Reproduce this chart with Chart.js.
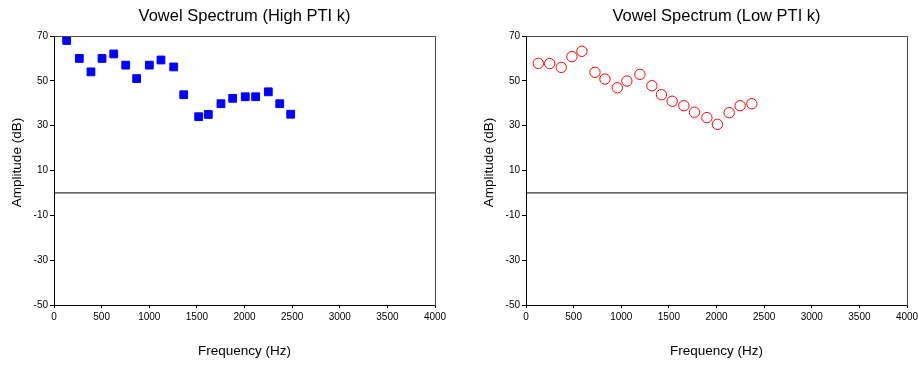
<!DOCTYPE html>
<html>
<head>
<meta charset="utf-8">
<script src="https://cdn.jsdelivr.net/npm/chart.js@4"></script>
<style>
  body { margin: 0; background: #fff; }
  #wrap { position: relative; width: 919px; height: 365px; overflow: hidden; background: #fff; }
  .box { position: absolute; top: 0; height: 365px; }
</style>
</head>
<body>
<div id="wrap">
  <div class="box" style="left:0;width:460px"><canvas id="highChart"></canvas></div>
  <div class="box" style="left:460px;width:459px"><canvas id="lowChart"></canvas></div>
</div>
<script>
// Harmonic frequencies (Hz) and amplitudes (dB)
const highFreq = [133, 266, 388, 504, 627, 753, 868, 1001, 1123, 1257, 1362, 1519, 1620, 1753, 1876, 2008, 2117, 2250, 2370, 2485];
const highAmp = [68, 60, 54, 60, 62, 57, 51, 57, 59.3, 56.2, 43.8, 34, 35, 39.8, 42.2, 42.9, 42.9, 45.1, 39.8, 35.1];

const lowFreq = [129, 248, 370, 482, 587, 724, 829, 958, 1059, 1196, 1322, 1422, 1535, 1657, 1769, 1899, 2010, 2133, 2248, 2371];
const lowAmp = [57.8, 57.7, 56.0, 60.8, 63.2, 53.8, 50.8, 46.9, 49.9, 52.9, 47.8, 43.8, 40.9, 38.9, 36.0, 33.6, 30.6, 35.8, 38.9, 39.8];

const xTicks = [0, 500, 1000, 1500, 2000, 2500, 3000, 3500, 4000];
const yTicks = [-50, -30, -10, 10, 30, 50, 70];
const zeroLine = [0, 0];

const FONT = 'Arial, "Liberation Sans", sans-serif';

// top and right edges of the plot frame, plus the y axis title
const framePlugin = {
    id: 'frame',
    afterDraw(chart, args, opts) {
        const a = chart.chartArea;
        const ctx = chart.ctx;
        ctx.save();
        ctx.strokeStyle = '#444';
        ctx.lineWidth = 1;
        ctx.beginPath();
        ctx.moveTo(Math.round(a.left) + 0.5, Math.round(a.top) + 0.5);
        ctx.lineTo(Math.round(a.right) + 0.5, Math.round(a.top) + 0.5);
        ctx.lineTo(Math.round(a.right) + 0.5, Math.round(a.bottom) + 0.5);
        ctx.stroke();

        // y title sits a little above the middle of the axis
        ctx.translate(opts.titleX, (a.top + a.bottom) / 2 - 8);
        ctx.rotate(-Math.PI / 2);
        ctx.fillStyle = '#000';
        ctx.font = '13.5px ' + FONT;
        ctx.textAlign = 'center';
        ctx.textBaseline = 'middle';
        ctx.fillText(opts.yTitle, 0, 0);
        ctx.restore();
    }
};

function makeChart(id, title, freq, amp, pointOpts, yAxisWidth, titleX, rightPad) {
    const ctx = document.getElementById(id).getContext('2d');
    return new Chart(ctx, {
        type: 'scatter',
        data: {
            datasets: [{
                data: freq.map((f, i) => ({ x: f, y: amp[i] })),
                ...pointOpts
            }, {
                type: 'line',
                data: [{ x: xTicks[0], y: zeroLine[0] }, { x: xTicks[xTicks.length - 1], y: zeroLine[1] }],
                borderColor: '#000',
                borderWidth: 1,
                pointRadius: 0,
                fill: false
            }]
        },
        options: {
            responsive: true,
            maintainAspectRatio: false,
            animation: false,
            layout: { padding: { top: 0, right: rightPad, bottom: 0, left: 0 } },
            plugins: {
                legend: { display: false },
                tooltip: { enabled: false },
                title: {
                    display: true,
                    text: title,
                    fullSize: false,
                    color: '#000',
                    font: { family: FONT, size: 16.5, weight: 'normal' },
                    padding: { top: 7, bottom: 9.2 }
                },
                frame: { titleX: titleX, yTitle: 'Amplitude (dB)' }
            },
            scales: {
                x: {
                    type: 'linear',
                    min: 0,
                    max: 4000,
                    afterBuildTicks: s => { s.ticks = xTicks.map(v => ({ value: v })); },
                    afterFit: s => { s.height = 60; s.paddingLeft = 0; s.paddingRight = 0; },
                    grid: { drawOnChartArea: false, tickLength: 3, tickColor: '#000' },
                    border: { color: '#000', width: 1 },
                    ticks: {
                        color: '#000',
                        padding: 3,
                        maxRotation: 0,
                        font: { family: FONT, size: 10 },
                        callback: v => String(v)
                    },
                    title: {
                        display: true,
                        text: 'Frequency (Hz)',
                        color: '#000',
                        font: { family: FONT, size: 13.5 },
                        padding: { top: 0, bottom: 6 }
                    }
                },
                y: {
                    type: 'linear',
                    min: -50,
                    max: 70,
                    afterBuildTicks: s => { s.ticks = yTicks.map(v => ({ value: v })); },
                    afterFit: s => { s.width = yAxisWidth; s.paddingTop = 0; s.paddingBottom = 0; },
                    grid: { drawOnChartArea: false, tickLength: 4, tickColor: '#000' },
                    border: { color: '#000', width: 1 },
                    ticks: {
                        color: '#000',
                        padding: 2,
                        font: { family: FONT, size: 10 },
                        callback: v => String(v)
                    }
                }
            }
        },
        plugins: [framePlugin]
    });
}

makeChart('highChart', 'Vowel Spectrum (High PTI k)', highFreq, highAmp, {
    pointStyle: 'rect',
    pointRadius: 5.5,
    pointBackgroundColor: '#0000ff',
    pointBorderColor: '#0000ff',
    pointBorderWidth: 1
}, 54, 17, 25);

makeChart('lowChart', 'Vowel Spectrum (Low PTI k)', lowFreq, lowAmp, {
    pointStyle: 'circle',
    pointRadius: 5.2,
    pointBackgroundColor: 'rgba(255,255,255,0)',
    pointBorderColor: '#ff0000',
    pointBorderWidth: 1
}, 66, 29, 12);
</script>
</body>
</html>
